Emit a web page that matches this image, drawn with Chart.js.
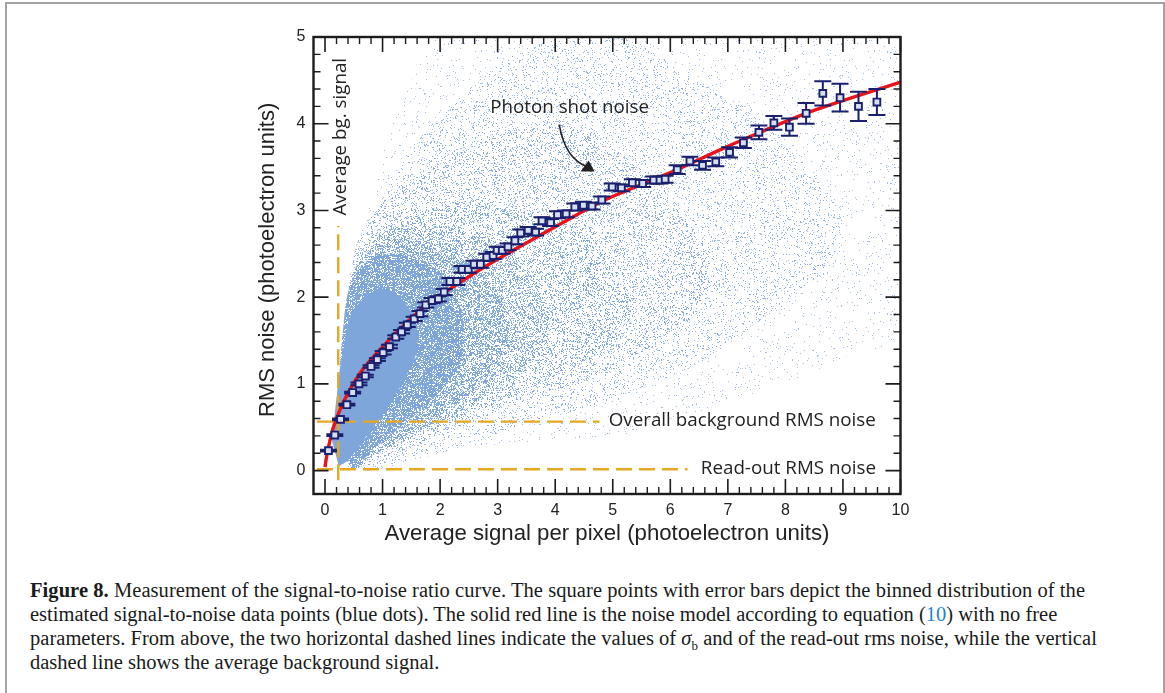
<!DOCTYPE html>
<html>
<head>
<meta charset="utf-8">
<title>Figure 8</title>
<script src="https://cdn.jsdelivr.net/npm/chart.js@4/dist/chart.umd.min.js"></script>
<style>
    html, body { margin: 0; padding: 0; background: #fff; overflow: hidden; }
    #frame { position: absolute; left: 5px; top: 2px; width: 1160px; height: 700px; border: 2px solid #a2a2a2; box-sizing: border-box; }
    #chartBox { position: absolute; left: 250px; top: 0; width: 670px; height: 552px; }
    .cap { position: absolute; left: 30px; white-space: nowrap; font-family: "Liberation Serif", serif; font-size: 20.5px; line-height: 24px; color: #1a1a1a; }
    .cap a { color: #1f87c4; }
</style>
</head>
<body>
<div id="frame"></div>
<div id="chartBox"><canvas id="snrChart" width="670" height="552"></canvas></div>
<div class="cap" style="top:578px;letter-spacing:0.06px"><b>Figure 8.</b> Measurement of the signal-to-noise ratio curve. The square points with error bars depict the binned distribution of the</div>
<div class="cap" style="top:602px">estimated signal-to-noise data points (blue dots). The solid red line is the noise model according to equation (<a>10</a>) with no free</div>
<div class="cap" style="top:626px;letter-spacing:0.03px">parameters. From above, the two horizontal dashed lines indicate the values of <i>σ</i><sub style="font-size:13px;line-height:0">b</sub> and of the read-out rms noise, while the vertical</div>
<div class="cap" style="top:650px">dashed line shows the average background signal.</div>
<script>
// binned points with error bars
const binX = [0.06, 0.17, 0.27, 0.38, 0.48, 0.59, 0.70, 0.80, 0.91, 1.01, 1.12, 1.23, 1.33, 1.43, 1.55, 1.65, 1.75, 1.86, 1.97, 2.07, 2.17, 2.29, 2.38, 2.49, 2.59, 2.70, 2.81, 2.92, 2.99, 3.08, 3.18, 3.30, 3.40, 3.53, 3.66, 3.77, 3.92, 4.04, 4.19, 4.34, 4.49, 4.64, 4.81, 4.99, 5.15, 5.34, 5.52, 5.71, 5.82, 5.91, 6.12, 6.34, 6.56, 6.79, 7.03, 7.27, 7.54, 7.80, 8.07, 8.36, 8.65, 8.95, 9.27, 9.59];
const binY = [0.23, 0.41, 0.59, 0.76, 0.90, 1.00, 1.09, 1.20, 1.28, 1.36, 1.43, 1.54, 1.60, 1.68, 1.75, 1.81, 1.91, 1.96, 1.98, 2.06, 2.18, 2.18, 2.32, 2.32, 2.38, 2.38, 2.46, 2.48, 2.54, 2.54, 2.58, 2.65, 2.74, 2.77, 2.75, 2.88, 2.86, 2.95, 2.96, 3.04, 3.06, 3.05, 3.12, 3.27, 3.26, 3.32, 3.31, 3.35, 3.35, 3.36, 3.47, 3.57, 3.52, 3.56, 3.67, 3.78, 3.90, 4.01, 3.96, 4.12, 4.35, 4.30, 4.20, 4.25];
const binErr = [0.01, 0.01, 0.01, 0.01, 0.01, 0.015, 0.015, 0.015, 0.015, 0.02, 0.02, 0.02, 0.02, 0.025, 0.025, 0.03, 0.03, 0.03, 0.03, 0.035, 0.04, 0.04, 0.04, 0.04, 0.04, 0.04, 0.04, 0.04, 0.04, 0.04, 0.04, 0.04, 0.04, 0.04, 0.04, 0.04, 0.04, 0.04, 0.04, 0.04, 0.04, 0.04, 0.04, 0.04, 0.04, 0.04, 0.04, 0.04, 0.04, 0.04, 0.05, 0.05, 0.05, 0.05, 0.06, 0.06, 0.08, 0.08, 0.10, 0.12, 0.14, 0.16, 0.17, 0.15];

// noise model curve
const modelX = [0.00, 0.03, 0.09, 0.16, 0.26, 0.43, 0.66, 1.09, 1.70, 2.00, 2.80, 4.54, 4.89, 6.05, 6.97, 8.36, 10.0];
const modelY = [0.04, 0.17, 0.36, 0.53, 0.70, 0.93, 1.17, 1.49, 1.88, 2.02, 2.36, 3.01, 3.13, 3.45, 3.73, 4.12, 4.48];

// dashed reference lines
const bgNoiseX = [-0.14, 4.77];
const bgNoiseY = [0.565, 0.565];
const readNoiseX = [-0.14, 6.3];
const readNoiseY = [0.015, 0.015];
const bgSignalX = [0.23, 0.23];
const bgSignalY = [-0.11, 2.82];

const cloudAX = [0.75, 1.1, 1.5, 2.0, 10.0, 10.0, 9.0, 8.0, 7.0, 6.0, 5.2, 4.0, 3.0, 2.0, 1.2, 0.4, 0.55];
const cloudAY = [3.0, 3.9, 4.5, 5.0, 5.0, 1.6, 1.3, 1.0, 0.8, 0.55, 0.4, 0.35, 0.3, 0.22, 0.12, 0.05, 2.2];
const cloudBX = [0.6, 0.9, 1.3, 1.9, 2.5, 3.3, 4.2, 5.2, 6.2, 7.5, 8.5, 9.0, 8.5, 7.5, 6.5, 5.5, 4.5, 3.5, 2.5, 1.5, 0.6, 0.35];
const cloudBY = [2.4, 3.0, 3.5, 4.0, 4.4, 4.8, 5.0, 5.0, 4.6, 4.1, 3.4, 2.8, 2.2, 1.7, 1.25, 0.95, 0.72, 0.52, 0.3, 0.12, 0.03, 1.0];
const cloudCX = [0.42, 0.6, 1.0, 1.5, 2.2, 3.0, 4.0, 5.0, 6.0, 6.7, 6.3, 5.5, 4.5, 3.5, 2.5, 1.5, 0.7, 0.3];
const cloudCY = [2.2, 2.7, 3.1, 3.35, 3.6, 3.9, 4.0, 3.75, 3.1, 2.4, 1.7, 1.35, 1.05, 0.8, 0.55, 0.28, 0.06, 1.0];
const cloudDX = [0.38, 0.55, 0.9, 1.4, 2.0, 2.8, 3.6, 4.4, 5.0, 5.3, 5.0, 4.2, 3.3, 2.5, 1.7, 1.0, 0.5, 0.27];
const cloudDY = [1.95, 2.45, 2.75, 2.95, 3.05, 3.05, 3.0, 2.8, 2.4, 1.9, 1.5, 1.15, 0.87, 0.65, 0.42, 0.2, 0.05, 1.0];
const cloudEX = [0.35, 0.5, 0.8, 1.2, 1.8, 2.4, 3.0, 3.6, 3.9, 3.5, 2.8, 2.1, 1.5, 0.9, 0.45, 0.22];
const cloudEY = [1.85, 2.35, 2.62, 2.8, 2.82, 2.75, 2.55, 2.2, 1.7, 1.2, 0.85, 0.6, 0.38, 0.19, 0.035, 0.8];
const cloudFX = [0.33, 0.45, 0.7, 1.1, 1.7, 2.3, 2.9, 3.2, 3.0, 2.5, 1.95, 1.4, 0.9, 0.45, 0.22];
const cloudFY = [1.6, 2.15, 2.5, 2.65, 2.65, 2.5, 2.15, 1.7, 1.25, 0.88, 0.62, 0.4, 0.2, 0.04, 0.8];
const cloudGX = [0.3, 0.42, 0.7, 1.1, 1.6, 2.1, 2.4, 2.35, 1.9, 1.4, 0.9, 0.45, 0.2];
const cloudGY = [1.55, 2.1, 2.4, 2.5, 2.45, 2.2, 1.75, 1.25, 0.85, 0.55, 0.28, 0.05, 0.75];
const cloudHX = [0.12, 0.22, 0.33, 0.45, 0.7, 1.0, 1.3, 1.55, 1.6, 1.4, 1.1, 0.7, 0.4, 0.24];
const cloudHY = [0.35, 0.95, 1.45, 1.8, 2.0, 2.1, 2.0, 1.75, 1.4, 1.08, 0.74, 0.38, 0.12, 0.05];

// axis ticks
const xTickLabels = [0, 1, 2, 3, 4, 5, 6, 7, 8, 9, 10];
const yTickLabels = [0, 1, 2, 3, 4, 5];
const xMinorTicks = [0.2, 0.4, 0.6, 0.8, 1.2, 1.4, 1.6, 1.8, 2.2, 2.4, 2.6, 2.8, 3.2, 3.4, 3.6, 3.8, 4.2, 4.4, 4.6, 4.8, 5.2, 5.4, 5.6, 5.8, 6.2, 6.4, 6.6, 6.8, 7.2, 7.4, 7.6, 7.8, 8.2, 8.4, 8.6, 8.8, 9.2, 9.4, 9.6, 9.8];
const yMinorTicks = [0.2, 0.4, 0.6, 0.8, 1.2, 1.4, 1.6, 1.8, 2.2, 2.4, 2.6, 2.8, 3.2, 3.4, 3.6, 3.8, 4.2, 4.4, 4.6, 4.8];

const zip = (xs, ys) => xs.map((x, i) => ({ x: x, y: ys[i] }));

// speckle texture for the cloud fills, same blue as the solid core so layers never go darker
function speckle(count, alpha) {
    const tile = document.createElement('canvas');
    tile.width = 131;
    tile.height = 131;
    const c = tile.getContext('2d');
    c.fillStyle = 'rgba(126, 166, 218, ' + alpha + ')';
    for (let i = 1; i <= count; i++) {
        const a = Math.sin(i * 12.9898) * 43758.5453;
        const b = Math.sin(i * 78.233) * 24634.6345;
        const px = Math.floor((a - Math.floor(a)) * 131);
        const py = Math.floor((b - Math.floor(b)) * 131);
        c.fillRect(px, py, 1, 1);
    }
    return c.createPattern(tile, 'repeat');
}

function cloudBand(xs, ys, fillStyle, order) {
    return {
        type: 'line',
        data: zip(xs, ys),
        backgroundColor: fillStyle,
        borderWidth: 0,
        borderColor: 'transparent',
        pointRadius: 0,
        tension: 0.35,
        fill: 'shape',
        order: order
    };
}

function dashedLine(xs, ys) {
    return {
        type: 'line',
        data: zip(xs, ys),
        borderColor: '#e5a823',
        borderWidth: 2.4,
        borderDash: [16, 7],
        pointRadius: 0,
        fill: false,
        order: 4
    };
}

const frameAndTicks = {
    id: 'frameAndTicks',
    // error bars go right under the square markers
    beforeDatasetDraw(chart, args) {
        if (args.meta.type !== 'scatter') return;
        const ctx = chart.ctx;
        const xs = chart.scales.x;
        const ys = chart.scales.y;
        ctx.save();
        ctx.strokeStyle = '#1a1f6e';
        ctx.lineWidth = 2;
        binX.forEach((x, i) => {
            const px = xs.getPixelForValue(x);
            const top = ys.getPixelForValue(binY[i] + binErr[i]);
            const bot = ys.getPixelForValue(binY[i] - binErr[i]);
            ctx.beginPath();
            ctx.moveTo(px, top);
            ctx.lineTo(px, bot);
            ctx.moveTo(px - 8.5, top);
            ctx.lineTo(px + 8.5, top);
            ctx.moveTo(px - 8.5, bot);
            ctx.lineTo(px + 8.5, bot);
            ctx.stroke();
        });
        ctx.restore();
    },
    afterDatasetsDraw(chart) {
        const ctx = chart.ctx;
        const area = chart.chartArea;
        const xs = chart.scales.x;
        const ys = chart.scales.y;
        ctx.save();
        ctx.strokeStyle = '#1c1c1c';

        // inward ticks on all four sides
        const xTick = (v, len) => {
            const p = xs.getPixelForValue(v);
            ctx.beginPath();
            ctx.moveTo(p, area.bottom);
            ctx.lineTo(p, area.bottom - len);
            ctx.moveTo(p, area.top);
            ctx.lineTo(p, area.top + len);
            ctx.stroke();
        };
        const yTick = (v, len) => {
            const p = ys.getPixelForValue(v);
            ctx.beginPath();
            ctx.moveTo(area.left, p);
            ctx.lineTo(area.left + len, p);
            ctx.moveTo(area.right, p);
            ctx.lineTo(area.right - len, p);
            ctx.stroke();
        };
        ctx.lineWidth = 1.4;
        xMinorTicks.forEach(v => xTick(v, 7));
        yMinorTicks.forEach(v => yTick(v, 7));
        ctx.lineWidth = 1.6;
        xTickLabels.forEach(v => xTick(v, 15));
        yTickLabels.forEach(v => yTick(v, 15));

        ctx.lineWidth = 2.4;
        ctx.strokeRect(area.left, area.top, area.right - area.left, area.bottom - area.top);

        // annotations
        ctx.fillStyle = '#222';
        ctx.font = '18.8px "Open Sans"';
        ctx.textBaseline = 'middle';
        ctx.textAlign = 'center';
        ctx.fillText('Photon shot noise', xs.getPixelForValue(4.25), ys.getPixelForValue(4.19));
        ctx.textAlign = 'left';
        ctx.fillText('Overall background RMS noise', xs.getPixelForValue(4.93), ys.getPixelForValue(0.575));
        ctx.fillText('Read-out RMS noise', xs.getPixelForValue(6.53), ys.getPixelForValue(0.025));
        ctx.save();
        ctx.translate(xs.getPixelForValue(0.27), ys.getPixelForValue(3.85));
        ctx.rotate(-Math.PI / 2);
        ctx.textAlign = 'center';
        ctx.fillText('Average bg. signal', 0, 0);
        ctx.restore();

        // y axis title sits a little above the middle of the axis
        ctx.font = '22px "Liberation Sans"';
        ctx.save();
        ctx.translate(18, ys.getPixelForValue(2.43));
        ctx.rotate(-Math.PI / 2);
        ctx.textAlign = 'center';
        ctx.fillText('RMS noise (photoelectron units)', 0, 0);
        ctx.restore();

        // curved arrow to the model line
        const sx = xs.getPixelForValue(4.07);
        const sy = ys.getPixelForValue(3.99);
        const tx = xs.getPixelForValue(4.65);
        const ty = ys.getPixelForValue(3.45);
        ctx.strokeStyle = '#222';
        ctx.lineWidth = 1.6;
        ctx.beginPath();
        ctx.moveTo(sx, sy);
        ctx.quadraticCurveTo(sx + 6, sy + 34, tx - 6, ty - 5);
        ctx.stroke();
        ctx.beginPath();
        ctx.moveTo(tx + 2, ty);
        ctx.lineTo(tx - 12, ty);
        ctx.lineTo(tx - 4, ty - 11);
        ctx.closePath();
        ctx.fill();
        ctx.restore();
    }
};

document.addEventListener('DOMContentLoaded', () => {
    const snrCtx = document.getElementById('snrChart').getContext('2d');
    new Chart(snrCtx, {
        type: 'scatter',
        data: {
            datasets: [
                {
                    type: 'scatter',
                    label: 'Binned',
                    data: zip(binX, binY),
                    pointStyle: 'rect',
                    pointRadius: 4.8,
                    backgroundColor: '#d5dff2',
                    borderColor: '#1a1f6e',
                    borderWidth: 1.9,
                    order: 1
                },
                {
                    type: 'line',
                    label: 'Model',
                    data: zip(modelX, modelY),
                    borderColor: '#e8141c',
                    borderWidth: 3.4,
                    pointRadius: 0,
                    tension: 0.3,
                    fill: false,
                    order: 2
                },
                dashedLine(bgNoiseX, bgNoiseY),
                dashedLine(readNoiseX, readNoiseY),
                dashedLine(bgSignalX, bgSignalY),
                cloudBand(cloudHX, cloudHY, '#7ea6da', 5),
                cloudBand(cloudGX, cloudGY, speckle(26000, 1), 6),
                cloudBand(cloudFX, cloudFY, speckle(12000, 0.95), 7),
                cloudBand(cloudEX, cloudEY, speckle(7500, 0.9), 8),
                cloudBand(cloudDX, cloudDY, speckle(4500, 0.85), 9),
                cloudBand(cloudCX, cloudCY, speckle(3200, 0.8), 10),
                cloudBand(cloudBX, cloudBY, speckle(1700, 0.75), 11),
                cloudBand(cloudAX, cloudAY, speckle(450, 0.7), 12)
            ]
        },
        options: {
            responsive: false,
            animation: false,
            layout: { padding: { top: 37, right: 19.5, left: 0, bottom: 0 } },
            plugins: {
                legend: { display: false },
                tooltip: { enabled: false }
            },
            scales: {
                x: {
                    type: 'linear',
                    min: -0.2,
                    max: 10,
                    afterFit(scale) { scale.height = 58; },
                    afterBuildTicks(scale) { scale.ticks = xTickLabels.map(v => ({ value: v })); },
                    grid: { display: false, drawTicks: false },
                    border: { display: false },
                    ticks: {
                        autoSkip: false,
                        maxRotation: 0,
                        padding: 7,
                        color: '#222',
                        font: { family: '"Liberation Sans"', size: 16 }
                    },
                    title: {
                        display: true,
                        text: 'Average signal per pixel (photoelectron units)',
                        color: '#222',
                        padding: { top: 0, bottom: 5 },
                        font: { family: '"Liberation Sans"', size: 22.2 }
                    }
                },
                y: {
                    type: 'linear',
                    min: -0.27,
                    max: 5,
                    afterFit(scale) { scale.width = 63.5; },
                    afterBuildTicks(scale) { scale.ticks = yTickLabels.map(v => ({ value: v })); },
                    grid: { display: false, drawTicks: false },
                    border: { display: false },
                    ticks: {
                        autoSkip: false,
                        padding: 8,
                        color: '#222',
                        font: { family: '"Liberation Sans"', size: 16 }
                    }
                }
            }
        },
        plugins: [frameAndTicks]
    });
});
</script>
</body>
</html>
